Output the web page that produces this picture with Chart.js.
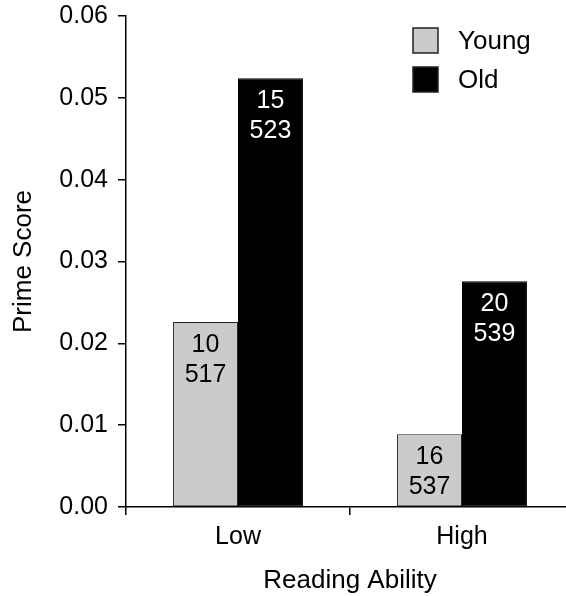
<!DOCTYPE html>
<html>
<head>
<meta charset="utf-8">
<script src="https://cdn.jsdelivr.net/npm/chart.js@4"></script>
<style>
  body { margin: 0; background: #fff; }
  #wrap { width: 566px; height: 596px; }
</style>
</head>
<body>
<div id="wrap"><canvas id="chart"></canvas></div>
<script>
const categories = ['Low', 'High'];
const seriesNames = ['Young', 'Old'];
const youngScores = [0.0226, 0.0089];
const oldScores = [0.0524, 0.0276];
const youngLabels = [['10', '517'], ['16', '537']];
const oldLabels = [['15', '523'], ['20', '539']];
const yTicks = [0, 0.01, 0.02, 0.03, 0.04, 0.05, 0.06];

const FONT = '"Liberation Sans", Arial, sans-serif';

// two-line labels inside each bar (count / N)
const barText = {
    id: 'barText',
    afterDatasetsDraw(chart) {
        const ctx = chart.ctx;
        ctx.save();
        ctx.font = '25px ' + FONT;
        ctx.textAlign = 'center';
        ctx.textBaseline = 'middle';
        chart.data.datasets.forEach((ds, i) => {
            chart.getDatasetMeta(i).data.forEach((bar, j) => {
                const lines = ds.inner[j];
                ctx.fillStyle = ds.textColor;
                ctx.fillText(lines[0], bar.x, bar.y + 23);
                ctx.fillText(lines[1], bar.x, bar.y + 53);
            });
        });
        ctx.restore();
    }
};

// legend in the upper right corner of the plot
const boxLegend = {
    id: 'boxLegend',
    afterDraw(chart) {
        const ctx = chart.ctx;
        ctx.save();
        ctx.font = '26px ' + FONT;
        ctx.textBaseline = 'middle';
        chart.data.datasets.forEach((ds, i) => {
            const y = 28 + i * 39;
            ctx.fillStyle = ds.backgroundColor;
            ctx.fillRect(413, y, 25, 25);
            ctx.strokeStyle = '#222';
            ctx.lineWidth = 1.5;
            ctx.strokeRect(413, y, 25, 25);
            ctx.fillStyle = '#000';
            ctx.fillText(ds.label, 458, y + 14);
        });
        ctx.restore();
    }
};

// plot area: top at 16 px, x axis runs a bit past the right edge
const fixArea = {
    id: 'fixArea',
    afterLayout(chart) {
        const x = chart.scales.x;
        const y = chart.scales.y;
        x.right = 574;
        x.width = x.right - x.left;
        x.configure();
        y.top = 16;
        y.height = y.bottom - y.top;
        y.configure();
        const a = chart.chartArea;
        a.right = 574;
        a.width = a.right - a.left;
        a.top = 16;
        a.height = a.bottom - a.top;
    }
};

new Chart(document.getElementById('chart').getContext('2d'), {
    type: 'bar',
    data: {
        labels: categories,
        datasets: [
            {
                label: seriesNames[0],
                data: youngScores,
                inner: youngLabels,
                textColor: '#000',
                backgroundColor: '#cbcbcb',
                borderColor: '#222',
                borderWidth: 1,
                borderSkipped: false
            },
            {
                label: seriesNames[1],
                data: oldScores,
                inner: oldLabels,
                textColor: '#fff',
                backgroundColor: '#000',
                borderColor: '#000',
                borderWidth: 1,
                borderSkipped: false
            }
        ]
    },
    options: {
        responsive: true,
        maintainAspectRatio: false,
        animation: false,
        layout: { padding: { top: 6, right: 0, left: 0, bottom: 0 } },
        datasets: { bar: { barPercentage: 1, categoryPercentage: 0.58 } },
        scales: {
            x: {
                afterFit: s => { s.height = 89; },
                grid: { offset: true, drawOnChartArea: false, drawTicks: true, tickLength: 8, color: '#000', lineWidth: 1.5 },
                border: { display: true, color: '#000', width: 1.5 },
                ticks: { color: '#000', font: { family: FONT, size: 25 }, padding: 7 },
                title: { display: true, text: 'Reading Ability', color: '#000', font: { family: FONT, size: 26 }, padding: { top: 15, bottom: 0 } }
            },
            y: {
                min: 0,
                max: 0.06,
                afterFit: s => { s.width = 126; },
                afterBuildTicks: s => { s.ticks = yTicks.map(v => ({ value: v })); },
                grid: { drawOnChartArea: false, drawTicks: true, tickLength: 8, color: '#000', lineWidth: 1.5 },
                border: { display: true, color: '#000', width: 1.5 },
                ticks: { color: '#000', font: { family: FONT, size: 25 }, padding: 10, callback: v => v.toFixed(2) },
                title: { display: true, text: 'Prime Score', color: '#000', font: { family: FONT, size: 26 }, padding: { top: 8, bottom: 0 } }
            }
        },
        plugins: {
            legend: { display: false },
            tooltip: { enabled: false }
        }
    },
    plugins: [fixArea, barText, boxLegend]
});
</script>
</body>
</html>
